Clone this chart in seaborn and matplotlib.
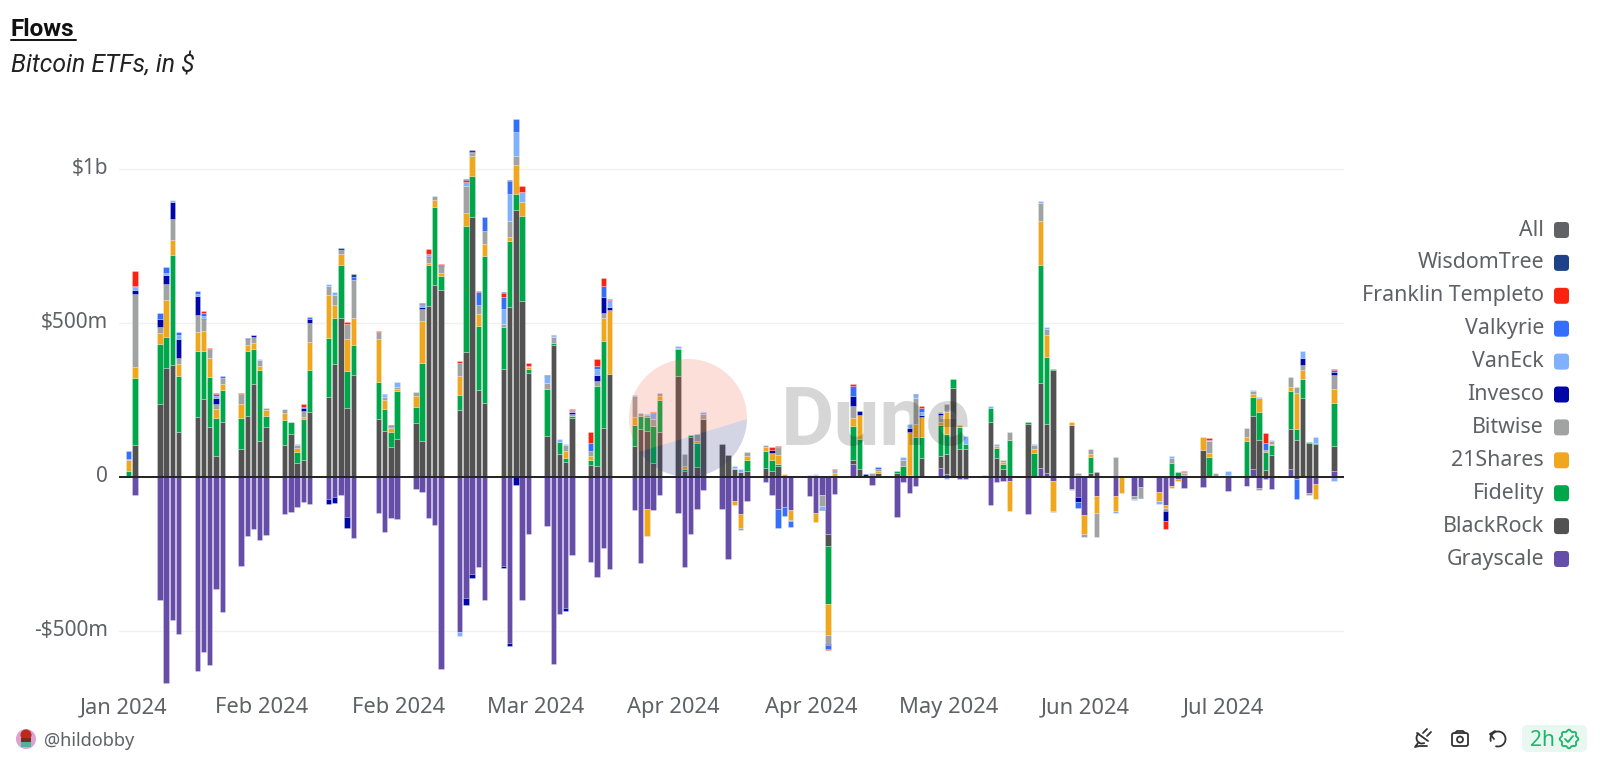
import numpy as np
import pandas as pd
import matplotlib
matplotlib.use("Agg")
import matplotlib.pyplot as plt
from matplotlib.patches import FancyBboxPatch, Circle, Polygon, Rectangle, Arc
from matplotlib.transforms import ScaledTranslation
import seaborn as sns

# trading days, one row per week
dates = [
    "01-10", "01-11", "01-12",
    "01-16", "01-17", "01-18", "01-19",
    "01-22", "01-23", "01-24", "01-25", "01-26", "01-27",
    "01-29", "01-30", "01-31", "02-01", "02-02",
    "02-05", "02-06", "02-07", "02-08", "02-09",
    "02-12", "02-13", "02-14", "02-15", "02-16",
    "02-20", "02-21", "02-22", "02-23",
    "02-26", "02-27", "02-28", "02-29", "03-01",
    "03-04", "03-05", "03-06", "03-07", "03-08",
    "03-11", "03-12", "03-13", "03-14", "03-15",
    "03-18", "03-19", "03-20", "03-21", "03-22",
    "03-25", "03-26", "03-27", "03-28",
    "04-01", "04-02", "04-03", "04-04", "04-05",
    "04-08", "04-09", "04-10", "04-11", "04-12",
    "04-15", "04-16", "04-17", "04-18", "04-19",
    "04-22", "04-23", "04-24", "04-25", "04-26",
    "04-29", "04-30", "05-01", "05-02", "05-03",
    "05-06", "05-07", "05-08", "05-09", "05-10",
    "05-13", "05-14", "05-15", "05-16", "05-17",
    "05-20", "05-21", "05-22", "05-23", "05-24",
    "05-27", "05-28", "05-29", "05-30", "05-31",
    "06-03", "06-04", "06-05", "06-06", "06-07",
    "06-10", "06-11", "06-12", "06-13", "06-14",
    "06-17", "06-18", "06-20", "06-21",
    "06-24", "06-25", "06-26", "06-27", "06-28",
    "07-01", "07-02", "07-03", "07-05",
    "07-08", "07-09", "07-10", "07-11", "07-12",
    "07-15", "07-16", "07-17", "07-18", "07-19",
    "07-22",
]

# flows in $m, same week layout as dates
grayscale = [
    0, 0, -59,
    -400, -668, -466, -511,
    -630, -569, -610, -365, -439, 0,
    -290, -192, -170, -204, -188,
    -122, -115, -97, -83, -89,
    -72, -66, -60, -131, -199,
    -118, -178, -133, -137,
    -41, -48, -134, -156, -623,
    -504, -392, -314, -294, -400,
    -288, -540, 0, -400, -187,
    -160, -607, -445, -426, -254,
    -278, -326, -230, -300,
    -107, -281, -103, -107, -60,
    -118, -294, -186, -103, -43,
    -106, -268, -80, -121, -78,
    -18, -60, -103, -97, -108,
    -62, -116, -60, -186, -56,
    43, 2, 0, -27, 0,
    -132, -16, -54, -29, 0,
    30, 8, 0, -6, -6,
    0, -90, -16, -14, -13,
    -121, 0, 28, 13, -13,
    -38, -64, -124, 0, -63,
    -63, 0, -63, -34,
    -50, -93, -30, -7, -36,
    -34, 0, 0, -45,
    -29, 24, -36, -7, -38,
    24, -7, 0, -54, -24,
    19,
]
blackrock = [
    2, 0, 104,
    238, 352, 362, 146,
    194, 254, 162, 66, 179, 0,
    89, 199, 300, 116, 163,
    104, 140, 46, 56, 212,
    260, 367, 516, 223, 331,
    188, 150, 98, 124,
    174, 116, 554, 623, 606,
    217, 406, 842, 282, 241,
    350, 551, 866, 570, 336,
    134, 428, 73, 49, 192,
    38, 34, 160, 334,
    100, 156, 150, 46, 145,
    326, 19, 130, 32, 189,
    106, 72, 24, 16, 18,
    29, 19, 36, 0, 0,
    0, 0, 0, -38, 0,
    13, 22, 0, 0, 14,
    13, 0, 0, 0, 62,
    38, 66, 289, 89, 89,
    0, 178, 60, 24, 0,
    172, 0, 278, 157, 346,
    168, 5, 0, 13, 17,
    0, 0, 0, 0,
    0, 0, 0, 0, 0,
    87, 0, 0, 0,
    -2, 174, 120, 22, 72,
    130, 118, 257, 109, 107,
    81,
]
fidelity = [
    0, 18, 216,
    192, 102, 358, 181,
    215, 154, 161, 124, 103, 0,
    101, 209, 115, 230, 36,
    79, 37, 36, 133, 134,
    191, 150, 172, 122, 98,
    119, 70, 49, 154,
    52, 253, 133, 253, 46,
    50, 408, 133, 206, 475,
    136, 215, 52, 276, 14,
    150, 7, 40, 12, 5,
    18, 260, 281, 0,
    68, 43, 44, 119, 104,
    89, 5, 5, 78, 0,
    0, 0, 0, 0, 38,
    55, 35, 5, 3, 0,
    0, 0, 0, -190, 0,
    108, 100, 4, 0, 0,
    5, 36, 5, 130, 67,
    100, 65, 27, 74, 19,
    0, 44, 35, 17, 119,
    6, 76, 381, 220, 5,
    0, 0, 0, 52, 0,
    0, 0, 0, 0,
    0, 0, 45, 15, 5,
    0, 65, 0, 5,
    116, 60, 92, 58, 30,
    125, 37, 60, 3, 3,
    141,
]
shares21 = [
    0, 37, 36,
    38, 120, 50, 40,
    61, 66, 62, 29, 18, 0,
    48, 19, 18, 14, 17,
    23, 0, 10, 4, 91,
    140, 41, 36, 102, 88,
    140, 28, 12, 8,
    37, 136, 6, 24, 10,
    60, 41, 68, 40, 41,
    0, 14, 94, 46, 5,
    0, 0, 0, 24, 0,
    10, 0, 74, 206,
    26, 0, -89, 0, 14,
    0, 10, 0, 6, 0,
    0, 0, -11, -46, 11,
    13, 24, 31, 5, -32,
    5, -30, 3, -100, 13,
    28, 77, 0, 0, 5,
    0, 0, 141, 40, 66,
    11, 70, 0, 4, 0,
    0, 0, 6, 6, -98,
    0, 13, 142, 72, -98,
    9, 0, -60, 9, -53,
    -49, -52, 0, 0,
    -28, -9, -5, -5, 0,
    43, 11, 0, 0,
    14, 11, 45, 6, 5,
    14, 118, 31, 0, -48,
    43,
]
bitwise = [
    0, 0, 236,
    18, 52, 66, 20,
    55, 37, 30, 18, 20, 0,
    32, 19, 20, 18, 6,
    13, 0, 10, 20, 61,
    30, 31, 11, 48, 122,
    22, 12, 4, 6,
    13, 41, 20, 10, 22,
    44, 89, 7, 31, 42,
    10, 49, 28, 0, 0,
    22, 18, 0, 18, 8,
    17, 16, 17, 0,
    67, 8, 8, 24, 10,
    4, 41, 0, 24, 14,
    0, 0, 6, -6, 13,
    5, 0, 25, 0, -5,
    0, 5, -35, -28, 0,
    37, 0, 0, 11, 6,
    0, 20, 0, 87, 0,
    22, 29, -2, 0, 0,
    5, 0, 0, 9, 26,
    0, 14, 61, 17, -3,
    -6, 8, -11, 15, -79,
    63, 3, -8, -32,
    0, -8, 17, 0, 8,
    0, 41, 11, 0,
    30, 10, -6, 2, 8,
    31, 17, 16, -6, 0,
    47,
]
invesco = [
    0, 0, 14,
    26, 30, 55, 59,
    61, 6, 0, 19, 0, 0,
    0, 4, 7, 0, 0,
    0, 0, 0, 10, 13,
    -16, -18, 0, -36, 0,
    0, 0, 0, 0,
    0, 5, 4, 0, 3,
    0, -24, -14, 0, 0,
    -7, -10, -26, 0, 0,
    0, 0, 0, -10, 5,
    0, 22, 53, 10,
    0, 0, 0, 0, 0,
    0, 0, 0, 0, 0,
    0, 0, 0, 0, 0,
    0, 8, 0, 0, 0,
    0, 0, 0, -5, 0,
    32, 13, 6, 0, 0,
    0, 0, 13, 0, 5,
    6, 0, 0, 0, 0,
    0, 0, 0, 0, 0,
    0, 0, 0, 0, 0,
    0, -18, 0, 0, 0,
    0, 0, 0, 0,
    0, -35, 0, 0, 0,
    0, 0, 0, 0,
    0, 0, 0, 0, 0,
    0, 0, 21, 0, 0,
    10,
]
vaneck = [
    0, 4, 11,
    0, 7, 6, 13,
    6, 6, 0, 6, 2, 0,
    0, 0, 0, 6, 0,
    0, 2, 4, 0, 0,
    4, 10, 0, 2, 0,
    0, 5, 0, 16,
    0, 7, 6, 0, 0,
    -14, 12, 0, 0, 0,
    48, 88, 78, 32, 5,
    22, 3, 10, 4, 6,
    0, 17, 0, 23,
    6, 0, 2, 19, 0,
    5, 0, 0, 0, 9,
    0, 0, 4, 8, 0,
    0, 0, 0, 0, 0,
    0, 3, -9, 0, 8,
    0, 0, 0, 0, 0,
    0, 9, 12, 8, 9,
    5, -6, 0, 0, 24,
    0, 8, 5, 0, 0,
    0, 3, 6, 6, 0,
    0, 0, 0, 0, 0,
    -4, 0, -5, 0,
    -10, 0, 6, 0, 2,
    0, 4, 2, 13,
    0, 4, 2, 0, 6,
    0, 0, 25, 0, 18,
    -13,
]
valkyrie = [
    0, 26, 4,
    20, 17, 0, 12,
    10, 10, 0, 7, 5, 2,
    0, 0, 0, 0, 0,
    0, 0, 0, 5, 7,
    0, 0, 0, 0, 10,
    0, 5, 0, 0,
    0, 0, 0, 0, 0,
    0, 0, 0, 42, 44,
    40, 44, 42, 0, 0,
    0, 5, 0, 0, 0,
    28, 11, 35, 0,
    0, 0, 0, 0, 0,
    0, 0, 0, 0, 0,
    0, 0, 0, 0, 0,
    0, 0, -62, -30, -18,
    0, 0, 0, -12, 0,
    34, 0, 0, 0, 6,
    0, 0, 0, 0, 16,
    0, 0, 0, 0, 0,
    0, 0, 0, 0, 0,
    0, 0, 0, 0, 0,
    0, -19, 0, 0, 0,
    0, 0, 0, 0,
    0, 0, 0, 0, 0,
    0, 0, 0, 0,
    0, 0, 0, 23, 0,
    0, -65, 0, 0, 0,
    6,
]
franklin = [
    2, 0, 47,
    0, 0, 2, 0,
    0, 6, 2, 2, 0, 0,
    2, 0, 2, 0, 0,
    2, 0, 0, 8, 0,
    2, 0, 0, 6, 0,
    5, 0, 3, 0,
    0, 2, 16, 0, 5,
    5, 8, 6, 3, 0,
    12, 0, 0, 19, 8,
    0, 0, 0, 0, 5,
    34, 22, 26, 5,
    0, 0, 0, 3, 0,
    0, 0, 0, 0, 0,
    0, 0, 0, 0, 0,
    2, 12, 2, 0, 2,
    0, 2, 0, -4, 5,
    5, 0, 0, 0, 0,
    0, 0, 0, 0, 6,
    0, 0, 0, 0, 0,
    0, 0, 0, 0, 0,
    0, 0, 0, 0, 0,
    0, 0, 0, 0, 0,
    0, 0, 0, 0,
    3, -23, 0, 0, 4,
    0, 4, 0, 0,
    0, 0, 0, 32, 0,
    0, 0, 0, 0, 0,
    4,
]
wisdomtree = [
    0, 0, 0,
    0, 0, 0, 0,
    0, 0, 0, 0, 0, 0,
    0, 2, 0, 0, 0,
    0, 0, 0, 0, 0,
    0, 0, 7, 0, 8,
    0, 0, 2, 0,
    0, 4, 0, 0, 0,
    0, 3, 6, 0, 0,
    3, 2, 0, 0, 0,
    2, 0, 0, 0, 0,
    0, 0, 0, 0,
    0, 0, 0, 0, 0,
    0, 0, 0, 0, 0,
    0, 0, 0, 0, 0,
    0, 0, 0, 0, 0,
    0, 0, -5, 0, 0,
    0, 0, 0, 0, 0,
    0, 0, 0, 4, 0,
    0, 0, 0, 0, 0,
    0, 0, 0, 0, 0,
    0, 0, 0, 0, 0,
    0, 0, 0, 0, 0,
    0, 0, 0, -2,
    0, 0, 0, 0, 0,
    0, 0, 0, 0,
    0, 0, 0, 0, 0,
    0, 0, 0, 0, 0,
    0,
]

# stacking order, bottom to top
issuers = ["Grayscale", "BlackRock", "Fidelity", "21Shares", "Bitwise",
           "Invesco", "VanEck", "Valkyrie", "Franklin Templeto", "WisdomTree"]
flows = [grayscale, blackrock, fidelity, shares21, bitwise,
         invesco, vaneck, valkyrie, franklin, wisdomtree]
colors = ["#664da8", "#525252", "#00a64a", "#efa71e", "#a0a3a2",
          "#0007a6", "#7fb1fd", "#346ffb", "#f9230f", "#1d4287"]
legend_labels = ["All"] + issuers[::-1]
legend_colors = ["#616266"] + colors[::-1]
y_ticks = [-500, 0, 500, 1000]
y_labels = ["-$500m", "0", "$500m", "$1b"]

sns.set_theme(style="white")
plt.rcParams["font.family"] = ["Noto Sans", "DejaVu Sans"]
text_color = "#5f6166"

when = pd.to_datetime(["2024-" + d for d in dates])
day = np.array((when - when[0]).days)

fig = plt.figure(figsize=(16, 7.66), dpi=100)
px_w, px_h = 1600, 766
ax = fig.add_axes([119 / px_w, 1 - 690 / px_h, (1344 - 119) / px_w, (690 - 105) / px_h])

pos_base = np.zeros(len(day))
neg_base = np.zeros(len(day))
for name, values, color in zip(issuers, flows, colors):
    values = np.array(values, dtype=float)
    up = np.clip(values, 0, None)
    down = np.clip(values, None, 0)
    for part, base in ((up, pos_base), (down, neg_base)):
        frame = pd.DataFrame({"day": day, "flow": part})
        sns.barplot(data=frame, x="day", y="flow", native_scale=True, errorbar=None,
                    color=color, saturation=1, width=0.87, bottom=base.copy(),
                    edgecolor=(1, 1, 1, 0.35), linewidth=0.5, legend=False, ax=ax)
    pos_base += up
    neg_base += down

for bar in ax.patches:
    if bar.get_height() == 0:
        bar.set_visible(False)

sns.despine(ax=ax, left=True, bottom=True)
ax.set_xlim(-0.53, 195.6)
ax.set_ylim(-692, 1207)
ax.set_axisbelow(True)
ax.yaxis.grid(True, color="#f1f1f1", linewidth=1)
ax.xaxis.grid(False)
ax.axhline(0, color="#222222", linewidth=1.4, zorder=5)
tick_days = np.arange(0, 177, 22)
ax.set_xticks(tick_days)
ax.set_xticklabels([(when[0] + pd.Timedelta(days=int(d))).strftime("%b %Y") for d in tick_days],
                   fontsize=15.8, color=text_color)
ax.set_yticks(y_ticks)
ax.set_yticklabels(y_labels, fontsize=15, color=text_color)
ax.tick_params(axis="x", length=0, pad=5)
ax.tick_params(axis="y", length=0, pad=8)
for label in ax.get_xticklabels():
    label.set_transform(label.get_transform() + ScaledTranslation(1.5 / 100, 0, fig.dpi_scale_trans))
for label in ax.get_yticklabels():
    label.set_transform(label.get_transform() + ScaledTranslation(0, 3 / 100, fig.dpi_scale_trans))
ax.set_xlabel("")
ax.set_ylabel("")

# overlay in pixel coordinates for title, watermark, legend and footer
ov = fig.add_axes([0, 0, 1, 1], zorder=10)
ov.set_xlim(0, px_w)
ov.set_ylim(px_h, 0)
ov.axis("off")
ov.patch.set_alpha(0)

ov.text(11, 29, "Flows", fontsize=17.5, fontweight="bold", family="Roboto", color="#111111", va="center")
ov.plot([11, 76], [40, 40], color="#111111", linewidth=1.4)
ov.text(11, 64, "Bitcoin ETFs, in $", fontsize=17.8, fontstyle="italic", family="Roboto", color="#222222", va="center")

# Dune watermark
cx, cy, r = 688, 418, 59
t = np.radians(np.linspace(1, 145, 80))
low = np.column_stack([cx + r * np.cos(t), cy + r * np.sin(t)])
t = np.radians(np.linspace(145, 361, 120))
high = np.column_stack([cx + r * np.cos(t), cy + r * np.sin(t)])
ov.add_patch(Polygon(high, closed=True, facecolor="#f4603e", alpha=0.2, edgecolor="none"))
ov.add_patch(Polygon(low, closed=True, facecolor="#2c3078", alpha=0.2, edgecolor="none"))
ov.text(781, 423, "Dune", fontsize=59, fontweight="bold", family="Roboto", color="black", alpha=0.16, va="center")

# legend
for i, (label, color) in enumerate(zip(legend_labels, legend_colors)):
    y = 230 + i * 32.9
    ov.text(1544, y, label, fontsize=15.4, color=text_color, ha="right", va="center")
    ov.add_patch(FancyBboxPatch((1556, y - 6), 11, 12, boxstyle="round,pad=2,rounding_size=3.5",
                                facecolor=color, edgecolor="none"))

# footer
ov.add_patch(Circle((26, 739), 10, facecolor="#d9a3d2", edgecolor="none"))
ov.add_patch(Circle((26, 735), 5.5, facecolor="#c0281c", edgecolor="none"))
ov.add_patch(Rectangle((21, 738), 10, 3.5, facecolor="#7a2a24", edgecolor="none"))
ov.add_patch(Rectangle((21, 742), 10, 5, facecolor="#4fb39a", edgecolor="none"))
ov.text(44, 741, "@hildobby", fontsize=13, color=text_color, va="center")

ic = "#333333"
# plug
ov.plot([1417, 1428], [733, 741], color=ic, linewidth=1.3)
ov.add_patch(Arc((1422, 738), 11, 11, theta1=60, theta2=240, color=ic, linewidth=1.3))
ov.plot([1423, 1427], [733, 729], color=ic, linewidth=1.3)
ov.plot([1427, 1431], [736, 732], color=ic, linewidth=1.3)
ov.plot([1418, 1415, 1419, 1423, 1427], [743, 747, 746, 746, 746], color=ic, linewidth=1.3)
# camera
ov.add_patch(FancyBboxPatch((1453, 734), 14, 11, boxstyle="round,pad=1,rounding_size=2",
                            facecolor="none", edgecolor=ic, linewidth=1.3))
ov.plot([1455, 1457, 1463, 1465], [733, 731, 731, 733], color=ic, linewidth=1.3)
ov.add_patch(Circle((1460, 739.5), 3, facecolor="none", edgecolor=ic, linewidth=1.3))
# reload
ov.add_patch(Arc((1498, 739), 15, 15, theta1=-200, theta2=110, color=ic, linewidth=1.3))
ov.plot([1495, 1490, 1494], [731, 734, 739], color=ic, linewidth=1.3)
# status badge
ov.add_patch(FancyBboxPatch((1526, 729), 57, 19, boxstyle="round,pad=4,rounding_size=6",
                            facecolor="#e8f7ef", edgecolor="none"))
ov.text(1530, 740, "2h", fontsize=15, color="#1db56c", va="center")
t = np.linspace(0, 2 * np.pi, 49)
rad = 8.5 + 0.9 * np.cos(8 * t)
ov.add_patch(Polygon(np.column_stack([1569 + rad * np.cos(t), 739 + rad * np.sin(t)]), closed=True,
                     facecolor="none", edgecolor="#1db56c", linewidth=1.3))
ov.plot([1565, 1568, 1573], [739, 742, 736], color="#1db56c", linewidth=1.3)

fig.savefig("out.png", dpi=100)
